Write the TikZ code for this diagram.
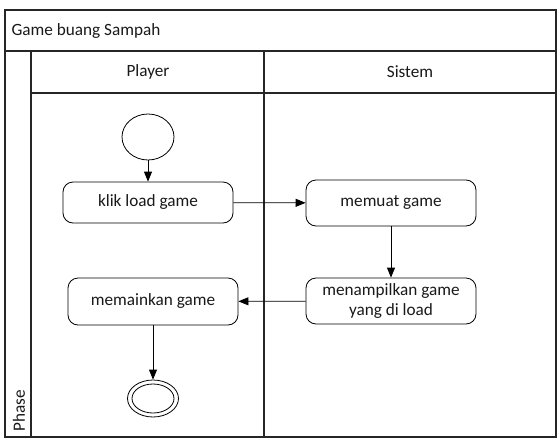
\documentclass[tikz,border=0pt]{standalone}
\usepackage{fontspec}
\setmainfont{Carlito}
\usetikzlibrary{arrows.meta,shapes.geometric}
\begin{document}
\begin{tikzpicture}[x=1pt,y=-1pt,
  lane/.style={draw=black!85,line width=1.1pt},
  txt/.style={font=\fontsize{17.2}{19.5}\selectfont,text=black!90},
  act/.style={txt,draw,line width=0.8pt,rounded corners=10pt,minimum width=170pt,minimum height=42pt,align=center,inner sep=2pt},
  startnode/.style={draw,line width=0.8pt,ellipse,minimum width=52pt,minimum height=46pt,inner sep=0pt},
  endnode/.style={draw,line width=0.8pt,ellipse,minimum width=51pt,minimum height=37pt,inner sep=0pt},
  flow/.style={-{Triangle[length=10pt,width=8pt]},line width=0.8pt}]
\useasboundingbox (0,0) rectangle (559,439);

% pool and swimlanes
\draw[lane] (5,10) rectangle (556,437);
\draw[lane] (5,51) -- (556,51);
\draw[lane] (31,51) -- (31,437);
\draw[lane] (264,51) -- (264,437);
\draw[lane] (31,93) -- (556,93);

\node[txt,anchor=west] (title) at (8,31) {Game buang Sampah};
\node[txt] (player) at (148,72) {Player};
\node[txt] (sistem) at (410,72) {Sistem};
\node[txt,rotate=90,anchor=west] (phase) at (19,435) {Phase};

% activities
\node[startnode] (start) at (148,137) {};
\node[act,minimum height=41pt] (klik) at (148,202.5) {klik load game};
\node[act,minimum height=46pt] (muat) at (391,203) {memuat game};
\node[act,minimum height=46pt] (tampil) at (391,301) {menampilkan game\\yang di load};
\node[act,minimum height=47pt] (main) at (153,301.5) {memainkan game};
\node[endnode] (final) at (153,398.5) {};
\node[draw,line width=0.8pt,ellipse,minimum width=42pt,minimum height=29pt,inner sep=0pt] (finalin) at (final.center) {};

% control flow
\draw[flow] (start) -- (klik);
\draw[flow] (klik) -- (muat);
\draw[flow] (muat) -- (tampil);
\draw[flow] (tampil) -- (main);
\draw[flow] (main) -- (final);
\end{tikzpicture}
\end{document}
